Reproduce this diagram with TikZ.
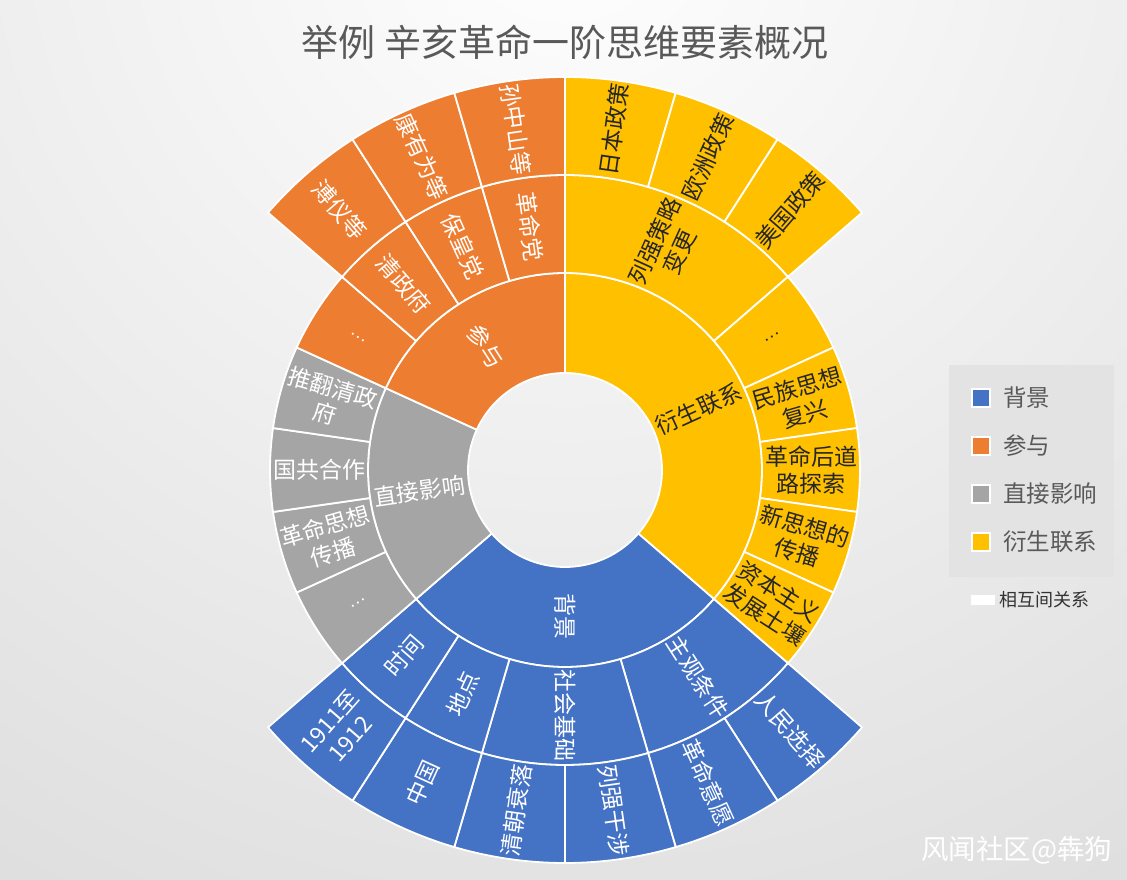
\documentclass[tikz,border=0pt]{standalone}
\usepackage{fontspec}
\setmainfont{Noto Sans CJK SC}
\definecolor{cB}{HTML}{4472C4}
\definecolor{cO}{HTML}{ED7D31}
\definecolor{cG}{HTML}{A5A5A5}
\definecolor{cY}{HTML}{FFC000}
\definecolor{bgout}{HTML}{C0C0C0}
\definecolor{titlec}{HTML}{595959}
\definecolor{dtext}{HTML}{262626}
\definecolor{legbg}{HTML}{E3E3E3}
\newcommand\segU{16.363636}
\tikzset{
  lab/.style={font=\fontsize{23}{27}\selectfont, align=center, inner sep=0pt},
  segfill/.style={draw=white, line width=1.8pt, line join=round},
  legsq/.style={draw=white, line width=1.5pt, minimum size=18pt, inner sep=0pt},
  legtx/.style={font=\fontsize{23.5}{25}\selectfont, text=titlec, anchor=west, inner sep=0pt}
}
\begin{document}
\begin{tikzpicture}[x=1pt,y=1pt]
\useasboundingbox (0,0) rectangle (1127,879);
\begin{scope}
  \clip (0,0) rectangle (1127,879);
  \shade[inner color=white, outer color=bgout] (565,979) circle (2200);
\end{scope}
\node[font=\fontsize{37}{40}\selectfont, text=titlec, inner sep=0pt] (title) at (565,837) {举例 辛亥革命一阶思维要素概况};
\def\segdata{%
97/197/0/8/cY/dtext/衍生联系/a1,
97/197/8/14/cB/white/背景/a2,
97/197/14/18/cG/white/直接影响/a3,
97/197/18/22/cO/white/参与/a4,
197/295/0/3/cY/dtext/{列强策略\\变更}/b1,
197/295/3/4/cY/dtext/{\fontsize{16}{16}\selectfont …}/b2,
197/295/4/5/cY/dtext/{民族思想\\复兴}/b3,
197/295/5/6/cY/dtext/{革命后道\\路探索}/b4,
197/295/6/7/cY/dtext/{新思想的\\传播}/b5,
197/295/7/8/cY/dtext/{资本主义\\发展土壤}/b6,
197/295/8/10/cB/white/主观条件/b7,
197/295/10/12/cB/white/社会基础/b8,
197/295/12/13/cB/white/地点/b9,
197/295/13/14/cB/white/时间/b10,
197/295/14/15/cG/white/{\fontsize{16}{16}\selectfont …}/b11,
197/295/15/16/cG/white/{革命思想\\传播}/b12,
197/295/16/17/cG/white/国共合作/b13,
197/295/17/18/cG/white/{推翻清政\\府}/b14,
197/295/18/19/cO/white/{\fontsize{16}{16}\selectfont …}/b15,
197/295/19/20/cO/white/清政府/b16,
197/295/20/21/cO/white/保皇党/b17,
197/295/21/22/cO/white/革命党/b18,
295/393/0/1/cY/dtext/日本政策/c1,
295/393/1/2/cY/dtext/欧洲政策/c2,
295/393/2/3/cY/dtext/美国政策/c3,
295/393/8/9/cB/white/人民选择/c4,
295/393/9/10/cB/white/革命意愿/c5,
295/393/10/11/cB/white/列强干涉/c6,
295/393/11/12/cB/white/清朝衰落/c7,
295/393/12/13/cB/white/中国/c8,
295/393/13/14/cB/white/{1911至\\1912}/c9,
295/393/19/20/cO/white/溥仪等/c10,
295/393/20/21/cO/white/康有为等/c11,
295/393/21/22/cO/white/孙中山等/c12}
\begin{scope}[shift={(565,409)}]
  \foreach \ra/\rb/\s/\e/\fc/\tc/\tx/\nm in \segdata {
    \pgfmathsetmacro\aA{90-\s*\segU}
    \pgfmathsetmacro\aB{90-\e*\segU}
    \fill[\fc, segfill] (\aA:\ra) arc[start angle=\aA, end angle=\aB, radius=\ra]
      -- (\aB:\rb) arc[start angle=\aB, end angle=\aA, radius=\rb] -- cycle;
  }
  \foreach \ra/\rb/\s/\e/\fc/\tc/\tx/\nm in \segdata {
    \pgfmathsetmacro\am{90-(\s+\e)/2*\segU}
    \pgfmathsetmacro\rot{ifthenelse(\am<-90.5,\am+180,\am)}
    \pgfmathsetmacro\rmid{(\ra+\rb)/2}
    \node[lab, text=\tc, rotate=\rot] (\nm) at (\am:\rmid) {\tx};
  }
\end{scope}
% legend
\fill[legbg] (949,302) rectangle (1114,514);
\node[legsq, fill=cB] (k1) at (981,481) {};
\node[legtx] (t1) at (1003,481) {背景};
\node[legsq, fill=cO] (k2) at (981,433) {};
\node[legtx] (t2) at (1003,433) {参与};
\node[legsq, fill=cG] (k3) at (981,385) {};
\node[legtx] (t3) at (1003,385) {直接影响};
\node[legsq, fill=cY] (k4) at (981,337) {};
\node[legtx] (t4) at (1003,337) {衍生联系};
\fill[white] (971,274) rectangle (995,284);
\node[font=\fontsize{18}{20}\selectfont, text=black!80, anchor=west, inner sep=0pt] (t5) at (999,279) {相互间关系};
\node[font=\fontsize{27.5}{29}\selectfont, text=white, anchor=west, inner sep=0pt] (wm) at (921,29) {风闻社区@犇狗};
\end{tikzpicture}
\end{document}
